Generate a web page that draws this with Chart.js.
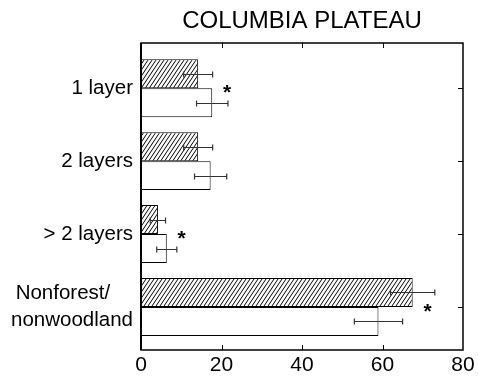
<!DOCTYPE html>
<html lang="en">
<head>
<meta charset="UTF-8">
<title>Columbia Plateau</title>
<script src="https://cdn.jsdelivr.net/npm/chart.js"></script>
<style>
  html, body { margin: 0; padding: 0; background: #fff; }
  #wrap { width: 478px; height: 379px; }
</style>
</head>
<body>
<div id="wrap"><canvas id="chart" width="478" height="379"></canvas></div>
<script>
// data
const categories = ['1 layer', '2 layers', '> 2 layers', ['Nonforest/    ', 'nonwoodland']];
const hatchedValues = [14.2, 14.2, 4.2, 67.5];
const hatchedErrors = [3.6, 3.6, 1.9, 5.5];
const openValues = [17.7, 17.3, 6.4, 59.0];
const openErrors = [3.9, 4.0, 2.5, 6.0];
const asteriskAt = [21.4, null, 10.1, 71.2];
const xTicks = [0, 20, 40, 60, 80];
const chartTitle = 'COLUMBIA PLATEAU';

const FONT = "'Liberation Sans', Arial, sans-serif";

// steep diagonal hatching, like the original's shaded bars
function makeHatch() {
    const w = 4, h = 6;
    const c = document.createElement('canvas');
    c.width = w; c.height = h;
    const g = c.getContext('2d');
    g.fillStyle = '#fff';
    g.fillRect(0, 0, w, h);
    g.strokeStyle = '#000';
    g.lineWidth = 1;
    g.beginPath();
    for (const dx of [-w, 0, w]) {
        g.moveTo(dx, h); g.lineTo(dx + w, 0);
    }
    g.stroke();
    return g.createPattern(c, 'repeat');
}

const decorations = {
    id: 'decorations',
    afterDatasetsDraw(chart) {
        const ctx = chart.ctx;
        const xs = chart.scales.x, ys = chart.scales.y;
        const a = chart.chartArea;
        ctx.save();

        // error bars
        ctx.strokeStyle = '#333';
        ctx.lineWidth = 1.2;
        [[hatchedValues, hatchedErrors], [openValues, openErrors]].forEach(([vals, errs], d) => {
            chart.getDatasetMeta(d).data.forEach((bar, i) => {
                const lo = xs.getPixelForValue(vals[i] - errs[i]);
                const hi = xs.getPixelForValue(vals[i] + errs[i]);
                const cy = Math.round(bar.y) + 0.5;
                ctx.beginPath();
                ctx.moveTo(lo, cy); ctx.lineTo(hi, cy);
                ctx.moveTo(lo, cy - 3); ctx.lineTo(lo, cy + 3);
                ctx.moveTo(hi, cy - 3); ctx.lineTo(hi, cy + 3);
                ctx.stroke();
            });
        });

        // significance marks
        ctx.fillStyle = '#000';
        ctx.font = 'bold 21px ' + FONT;
        ctx.textAlign = 'center';
        ctx.textBaseline = 'alphabetic';
        asteriskAt.forEach((v, i) => {
            if (v === null) return;
            ctx.fillText('*', xs.getPixelForValue(v), ys.getPixelForValue(i) + 11);
        });

        // frame with inward ticks
        ctx.strokeStyle = '#000';
        ctx.lineWidth = 1.5;
        ctx.strokeRect(a.left, a.top, a.right - a.left, a.bottom - a.top);
        ctx.lineWidth = 2;
        ctx.beginPath();
        ctx.moveTo(a.left, a.top); ctx.lineTo(a.left, a.bottom);
        ctx.stroke();
        ctx.lineWidth = 1;
        ctx.beginPath();
        xTicks.slice(1, -1).forEach(v => {
            const px = Math.round(xs.getPixelForValue(v)) + 0.5;
            ctx.moveTo(px, a.top); ctx.lineTo(px, a.top + 5);
            ctx.moveTo(px, a.bottom); ctx.lineTo(px, a.bottom - 5);
        });
        categories.forEach((c, i) => {
            const py = Math.round(ys.getPixelForValue(i)) + 0.5;
            ctx.moveTo(a.right, py); ctx.lineTo(a.right - 5, py);
        });
        ctx.stroke();

        // title centred over the plot
        ctx.font = '24px ' + FONT;
        ctx.textBaseline = 'middle';
        ctx.fillText(chartTitle, (a.left + a.right) / 2, 21);
        ctx.restore();
    }
};

const ctx = document.getElementById('chart').getContext('2d');
new Chart(ctx, {
    type: 'bar',
    data: {
        datasets: [{
            data: hatchedValues.map((v, i) => ({ x: v, y: i })),
            backgroundColor: makeHatch(),
            borderColor: '#000',
            borderWidth: 1,
            borderSkipped: false
        }, {
            data: openValues.map((v, i) => ({ x: v, y: i })),
            backgroundColor: '#fff',
            borderColor: '#000',
            borderWidth: 1,
            borderSkipped: false
        }]
    },
    options: {
        indexAxis: 'y',
        responsive: false,
        animation: false,
        devicePixelRatio: 1,
        categoryPercentage: 0.795,
        barPercentage: 1,
        layout: { padding: { top: 43, right: 15, left: 0, bottom: 0 } },
        scales: {
            x: {
                type: 'linear',
                position: 'bottom',
                min: 0,
                max: 80,
                afterBuildTicks: s => { s.ticks = xTicks.map(v => ({ value: v })); },
                afterFit: s => { s.height = 29; },
                grid: { display: false, drawTicks: false },
                border: { display: false },
                ticks: { color: '#000', padding: 3, font: { family: FONT, size: 21 } }
            },
            y: {
                type: 'linear',
                position: 'left',
                reverse: true,
                offset: false,
                bounds: 'data',
                min: -0.62,
                max: 3.59,
                afterBuildTicks: s => { s.ticks = categories.map((c, i) => ({ value: i })); },
                afterFit: s => { s.width = 141; },
                grid: { display: false, drawTicks: false },
                border: { display: false },
                ticks: {
                    color: '#000',
                    padding: 8,
                    autoSkip: false,
                    font: { family: FONT, size: 20.5, lineHeight: 1.35 },
                    callback: v => categories[v]
                }
            }
        },
        plugins: {
            legend: { display: false },
            tooltip: { enabled: false },
            title: { display: false }
        }
    },
    plugins: [decorations]
});
</script>
</body>
</html>
